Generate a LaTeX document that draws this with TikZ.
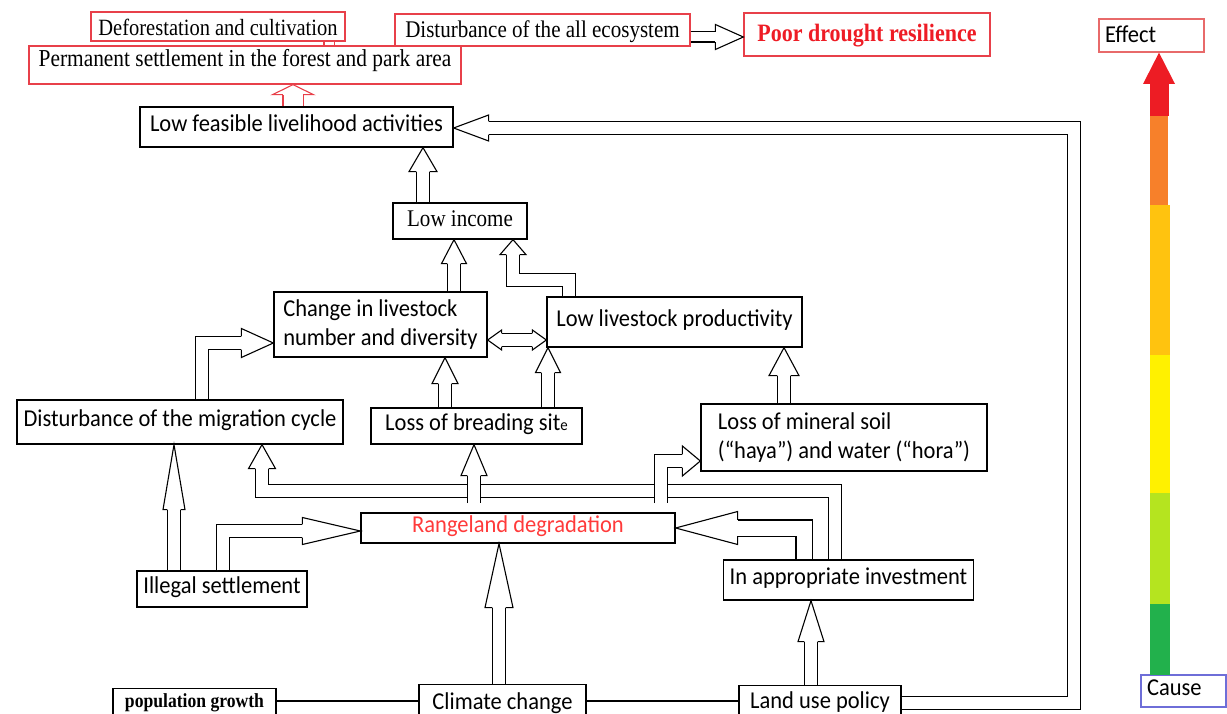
\documentclass[tikz,border=0pt]{standalone}
\usepackage{fontspec}
\setmainfont[FakeStretch=0.88]{Liberation Serif}
\newfontfamily\calib[FakeStretch=0.93]{Carlito}

\definecolor{boxred}{HTML}{E8404A}
\definecolor{textred}{HTML}{FF3A3A}
\definecolor{poorred}{HTML}{EE1C25}
\definecolor{effectred}{HTML}{E86A6A}
\definecolor{causeblue}{HTML}{6E6ED8}
\definecolor{barred}{HTML}{ED1C24}
\definecolor{barorange}{HTML}{F7802A}
\definecolor{baramber}{HTML}{FFC30F}
\definecolor{baryellow}{HTML}{FFF100}
\definecolor{barlime}{HTML}{B5E41F}
\definecolor{bargreen}{HTML}{22B14C}

% hollow block arrows: a double line for the shaft and an open head on top
\def\halfshaft{6.55}
\newcommand{\blockhead}[4]{%
	\begin{scope}[shift={#1}, rotate=#2]
		\filldraw[fill=white, line width=1.1pt] (-#3,\halfshaft) -- (-#3,#4/2) -- (0,0) -- (-#3,-#4/2) -- (-#3,-\halfshaft);
	\end{scope}}
\newcommand{\barrow}[5]{%
	\draw[shaft, shorten >=#4pt] #1 -- #2;
	\blockhead{#2}{#3}{#4}{#5}}

\begin{document}
\begin{tikzpicture}[x=1pt, y=-1pt,
	box/.style={rectangle, draw=black, line width=1.3pt, inner xsep=6pt, inner ysep=0pt, align=left, font=\calib\fontsize{24.2}{29}\selectfont, text height=15pt, text depth=6pt},
	redbox/.style={box, draw=boxred},
	cutbox/.style={box, anchor=north, text height=#1, text depth=40pt},
	shaft/.style={double, double distance=12pt, line width=1.1pt},
	]
	\useasboundingbox (0,0) rectangle (1227,714);
	\clip (0,0) rectangle (1227,714);

	% effects
	\node[redbox, minimum width=254pt, minimum height=29pt, text height=20pt, text depth=1pt, font=\fontsize{23.3}{23.3}\selectfont] at (218, 26.5) (defor) {Deforestation and cultivation};
	\node[redbox, minimum width=432pt, minimum height=38pt, text height=16pt, text depth=13pt, font=\fontsize{24.3}{24.3}\selectfont] at (245, 65) (perm) {Permanent settlement in the forest and park area};
	\node[redbox, minimum width=295pt, minimum height=32pt, text height=18pt, text depth=2pt, font=\fontsize{23.9}{23.9}\selectfont] at (542.5, 30) (eco) {Disturbance of the all ecosystem};
	\node[redbox, minimum width=246pt, minimum height=43pt, text height=17pt, text depth=3pt, text=poorred, font=\bfseries\fontsize{25}{25}\selectfont] at (867, 34.5) (poor) {Poor drought resilience};

	\node[box, minimum width=313pt, minimum height=40pt] at (296.5, 127) (feas) {Low feasible livelihood activities};
	\node[box, minimum width=134pt, minimum height=36pt, text height=15pt, text depth=4pt, font=\fontsize{23.9}{23.9}\selectfont] at (460, 221) (lowinc) {Low income};
	\node[box, minimum width=213pt, minimum height=65pt, text height={}, text depth={}] at (380.5, 324.5) (change) {Change in livestock\\number and diversity};
	\node[box, minimum width=255pt, minimum height=50pt] at (674.5, 322) (prod) {Low livestock productivity};
	\node[box, minimum width=326pt, minimum height=44pt] at (180, 422) (migr) {Disturbance of the migration cycle};
	\node[box, minimum width=211pt, minimum height=36pt] at (476.5, 426) (breed) {Loss of breading sit{\fontsize{16}{16}\selectfont e}};
	\node[box, minimum width=286pt, minimum height=67pt, text height={}, text depth={}] at (844, 437.5) (mineral) {Loss of mineral soil\\(“haya”) and water (“hora”)};
	\node[box, minimum width=314pt, minimum height=30pt, text=textred] at (518, 528) (range) {Rangeland degradation};
	\node[box, minimum width=170pt, minimum height=36pt] at (222, 589) (illegal) {Illegal settlement};
	\node[box, minimum width=249pt, minimum height=40pt] at (848.5, 580) (inapp) {In appropriate investment};

	% causes
	\node[cutbox=19pt, minimum width=163pt, font=\bfseries\fontsize{20}{20}\selectfont] at (194.5, 688) (pop) {population growth};
	\node[cutbox=25pt, minimum width=167pt] at (502.5, 684) (climate) {Climate change};
	\node[cutbox=22.5pt, minimum width=162pt] at (820, 685) (landuse) {Land use policy};

	\coordinate (minbranch) at (661, 503);
	\coordinate (rangeup) at (474, 503);

	\draw[line width=1.2pt] (pop.east |- 0,701) -- (climate.west |- 0,701);
	\draw[line width=1.2pt] (climate.east |- 0,701) -- (landuse.west |- 0,701);

	\draw[boxred, line width=1.2pt, double, double distance=9pt] (defor.south -| 329,0) -- (perm.north -| 329,0);
	\begin{scope}[boxred, shaft/.append style={double distance=19pt}]
		\def\halfshaft{10.05}
		\barrow{(feas.north -| 293,0)}{(perm.south -| 293,0)}{90}{10}{41}
	\end{scope}
	\begin{scope}[shaft/.append style={double distance=9pt}]
		\def\halfshaft{5.05}
		\barrow{(eco.east |- 0,37)}{(poor.west |- 0,37)}{0}{28}{25}
	\end{scope}

	\barrow{(lowinc.north -| 423,0)}{(feas.south -| 423,0)}{90}{24}{28}
	\barrow{(change.north -| 454,0)}{(lowinc.south -| 454,0)}{90}{24}{25}
	\barrow{(prod.north -| 569,0) -- (569,280) -- (513,280)}{(lowinc.south -| 513,0)}{90}{15}{26}
	\draw[shaft, shorten <=14pt, shorten >=14pt] (change.east |- 0,340) -- (prod.west |- 0,340);
	\blockhead{(change.east |- 0,340)}{180}{14}{20}
	\blockhead{(prod.west |- 0,340)}{0}{14}{20}
	\barrow{(migr.north -| 202,0) -- (202,343)}{(change.west |- 0,343)}{0}{32}{29}
	\barrow{(breed.north -| 445,0)}{(change.south -| 445,0)}{90}{26}{26}
	\barrow{(breed.north -| 548,0)}{(prod.south -| 548,0)}{90}{25}{25}
	\barrow{(mineral.north -| 784,0)}{(prod.south -| 784,0)}{90}{28}{30}
	\barrow{(illegal.north -| 174,0)}{(migr.south -| 174,0)}{90}{65}{22}
	\barrow{(illegal.north -| 223,0) -- (223,531)}{(range.west |- 0,531)}{0}{58}{27}
	\barrow{(climate.north -| 499,0)}{(range.south -| 499,0)}{90}{64}{28}
	\barrow{(landuse.north -| 811,0)}{(inapp.south -| 811,0)}{90}{41}{26}
	\begin{scope}[shaft/.append style={double distance=15pt}]
		\def\halfshaft{8.05}
		\barrow{(inapp.north -| 804,0) -- (804,528)}{(range.east |- 0,528)}{180}{62}{33}
	\end{scope}
	\barrow{(inapp.north -| 835,0) -- (835,491) -- (262,491)}{(migr.south -| 262,0)}{90}{24}{27}
	\barrow{(minbranch) -- (661,461)}{(mineral.west |- 0,461)}{0}{18}{30}
	\barrow{(rangeup)}{(breed.south -| 474,0)}{90}{31}{26}
	\barrow{(landuse.east |- 0,703) -- (1074,703) -- (1074,128)}{(feas.east |- 0,128)}{180}{35}{26}

	% cause to effect scale
	\node[box, draw=effectred, minimum height=33pt, text width=93pt, text depth=0pt] at (1151.5, 35.5) (effect) {Effect};
	\node[box, draw=causeblue, minimum height=32pt, text width=73pt] at (1183.5, 691) (cause) {Cause};
	\fill[bargreen] (1150,604) rectangle (1170,675);
	\fill[barlime] (1150,493) rectangle (1170,604);
	\fill[baryellow] (1150,355) rectangle (1170,493);
	\fill[baramber] (1150,205) rectangle (1170,355);
	\fill[barorange] (1150,116) rectangle (1168,205);
	\fill[barred] (1150,84) rectangle (1169,116);
	\fill[barred] (1143,84) -- (effect.south -| 1159,0) -- (1175,84) -- cycle;
\end{tikzpicture}
\end{document}
